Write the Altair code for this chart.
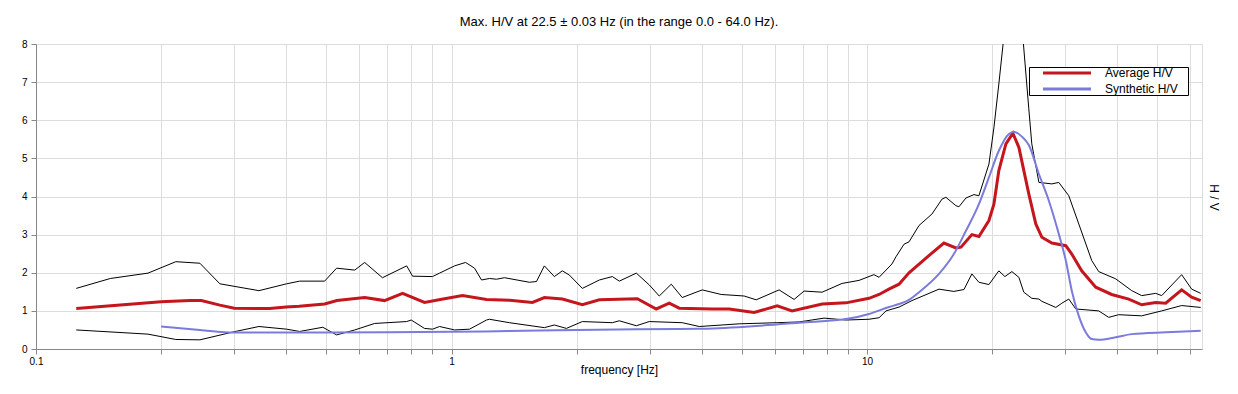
import altair as alt
import pandas as pd

# ---------------- data ----------------
avg_f = [0.125, 0.20, 0.235, 0.25, 0.277, 0.30, 0.365, 0.40, 0.43, 0.495, 0.53, 0.618, 0.69,
         0.7625, 0.861, 0.94, 1.063, 1.214, 1.38, 1.566, 1.673, 1.848, 2.065, 2.269, 2.80, 3.11,
         3.342, 3.533, 4.24, 4.66, 5.35, 6.08, 6.60, 7.80, 8.90, 10.11, 10.69, 11.29, 11.94, 12.62,
         14.09, 15.31, 16.36, 16.83, 17.88, 18.59, 19.65, 20.20, 20.76, 21.59, 22.44, 23.20, 24.51,
         25.48, 26.35, 27.85, 30.09, 31.10, 32.86, 35.52, 38.80, 42.64, 45.82, 49.52, 52.34, 57.18,
         60.44, 63.54]
avg_v = [1.06, 1.24, 1.27, 1.27, 1.15, 1.07, 1.06, 1.10, 1.12, 1.18, 1.27, 1.35, 1.27,
         1.46, 1.22, 1.30, 1.40, 1.30, 1.28, 1.22, 1.35, 1.31, 1.16, 1.29, 1.32, 1.05,
         1.20, 1.07, 1.05, 1.05, 0.96, 1.13, 1.00, 1.18, 1.21, 1.33, 1.43, 1.57, 1.70, 2.00,
         2.45, 2.78, 2.65, 2.67, 3.00, 2.95, 3.37, 3.80, 4.68, 5.38, 5.66, 5.29, 4.07,
         3.28, 2.93, 2.78, 2.71, 2.49, 2.05, 1.62, 1.43, 1.31, 1.16, 1.22, 1.20, 1.55,
         1.36, 1.27]

syn_f = [0.20, 0.248, 0.30, 0.43, 0.70, 1.2, 2.8, 3.95, 5.2, 6.86, 9.05, 10.11, 11.29, 11.94,
         12.62, 13.34, 14.90, 16.18, 17.30, 18.59, 19.65, 20.76, 21.95, 22.56, 23.59, 24.51,
         25.92, 27.39, 28.94, 30.09, 31.10, 32.33, 33.60, 34.74, 36.11, 39.67, 43.36, 52.34, 63.54]
syn_v = [0.59, 0.50, 0.43, 0.43, 0.44, 0.46, 0.52, 0.53, 0.59, 0.69, 0.80, 0.92, 1.10, 1.18,
         1.29, 1.49, 1.97, 2.49, 3.10, 3.80, 4.50, 5.20, 5.64, 5.70, 5.57, 5.35,
         4.59, 3.89, 3.02, 2.32, 1.53, 0.87, 0.44, 0.26, 0.24, 0.31, 0.39, 0.44, 0.48]

upper_f = [0.125, 0.151, 0.186, 0.217, 0.248, 0.277, 0.344, 0.401, 0.431, 0.495, 0.529, 0.585,
           0.618, 0.682, 0.78, 0.806, 0.90, 0.936, 1.017, 1.081, 1.136, 1.181, 1.234, 1.283,
           1.341, 1.54, 1.601, 1.673, 1.768, 1.848, 1.921, 2.065, 2.269, 2.438, 2.534, 2.785,
           2.992, 3.162, 3.38, 3.592, 4.013, 4.457, 5.062, 5.41, 6.144, 6.675, 7.056, 7.796,
           8.709, 9.567, 10.39, 10.69, 11.48, 11.74, 12.28, 12.62, 13.34, 14.33, 15.15, 15.48,
           16.36, 16.64, 17.30, 18.08, 18.59, 19.65, 20.20, 20.76, 21.35, 22.44, 23.71, 24.51,
           24.92, 25.92, 27.85, 28.94, 30.59, 32.33, 34.74, 36.11, 39.67, 43.36, 45.82, 49.52,
           51.19, 57.18, 60.44, 63.54]
upper_v = [1.59, 1.85, 1.99, 2.29, 2.25, 1.71, 1.53, 1.71, 1.78, 1.78, 2.12, 2.07,
           2.27, 1.87, 2.18, 1.91, 1.90, 1.99, 2.18, 2.27, 2.12, 1.81, 1.85, 1.83,
           1.87, 1.75, 1.77, 2.18, 1.90, 2.05, 1.94, 1.59, 1.81, 1.90, 1.78, 1.99,
           1.68, 1.39, 1.70, 1.35, 1.55, 1.43, 1.39, 1.29, 1.55, 1.30, 1.52, 1.49,
           1.72, 1.80, 1.95, 1.88, 2.23, 2.42, 2.75, 2.81, 3.24, 3.54, 3.93, 3.98,
           3.76, 3.73, 3.96, 4.05, 4.02, 4.85, 5.80, 6.95, 8.20, 10.50, 8.20, 6.30,
           5.38, 4.37, 4.33, 4.37, 4.02, 3.28, 2.32, 2.03, 1.84, 1.53, 1.40, 1.46,
           1.40, 1.95, 1.57, 1.46]

lower_f = [0.125, 0.186, 0.217, 0.248, 0.299, 0.344, 0.401, 0.431, 0.49, 0.529, 0.585, 0.653,
           0.78, 0.80, 0.861, 0.90, 0.936, 1.017, 1.105, 1.214, 1.234, 1.378, 1.673, 1.768,
           1.89, 2.065, 2.438, 2.534, 2.785, 2.992, 3.592, 3.947, 4.924, 6.077, 6.864, 7.883,
           8.904, 10.11, 10.69, 11.11, 11.94, 12.83, 14.90, 16.18, 17.11, 17.88, 18.59, 19.65,
           20.76, 21.47, 22.32, 23.20, 23.84, 24.92, 25.92, 26.35, 28.47, 29.43, 30.59, 31.80,
           36.11, 38.16, 40.34, 45.82, 51.19, 57.18, 63.54]
lower_v = [0.50, 0.39, 0.25, 0.24, 0.45, 0.59, 0.52, 0.46, 0.57, 0.37, 0.50, 0.67,
           0.72, 0.76, 0.54, 0.52, 0.59, 0.50, 0.52, 0.76, 0.78, 0.69, 0.56, 0.63,
           0.54, 0.72, 0.69, 0.74, 0.61, 0.72, 0.69, 0.59, 0.66, 0.69, 0.71, 0.81,
           0.76, 0.78, 0.82, 1.00, 1.10, 1.27, 1.57, 1.51, 1.56, 1.97, 1.75, 1.69,
           2.05, 1.90, 2.03, 1.88, 1.49, 1.33, 1.31, 1.25, 1.09, 1.20, 1.31, 1.05,
           1.00, 0.83, 0.90, 0.87, 1.00, 1.14, 1.09]

x_ticks = [0.1, 0.2, 0.3, 0.4, 0.5, 0.6, 0.7, 0.8, 0.9,
           1, 2, 3, 4, 5, 6, 7, 8, 9,
           10, 20, 30, 40, 50, 60]
y_ticks = [0, 1, 2, 3, 4, 5, 6, 7, 8]
series_names = ["Average H/V", "Synthetic H/V"]
series_colors = ["#C4161C", "#7B7BDB"]

FONT = "Liberation Sans"
# trailing room inside the legend box (spaces kept by a zero-width end char)
LEGEND_PAD = "   \u200b"

# ---------------- tables ----------------
avg = pd.DataFrame({"f": avg_f, "v": avg_v, "series": series_names[0]})
syn = pd.DataFrame({"f": syn_f, "v": syn_v, "series": series_names[1]})
black = pd.concat([
    pd.DataFrame({"f": upper_f, "v": upper_v, "curve": "upper"}),
    pd.DataFrame({"f": lower_f, "v": lower_v, "curve": "lower"}),
])

x_axis = alt.Axis(
    values=x_ticks,
    labelExpr="datum.value == 0.1 ? '0.1' : (datum.value == 1 ? '1' : (datum.value == 10 ? '10' : ''))",
    labelOverlap=False, labelFlush=False, labelPadding=2,
    title="frequency [Hz]", titleX=583, titleY=20, titleBaseline="middle",
    titleFontWeight="normal", titleFontSize=12, titleFont=FONT,
    grid=True,
)
x_enc = alt.X("f:Q", scale=alt.Scale(type="log", domain=[0.1, 64], nice=False), axis=x_axis)

y_scale = alt.Scale(domain=[0, 8], nice=False, zero=True)
y_left = alt.Y("v:Q", scale=y_scale,
               axis=alt.Axis(values=y_ticks, title=None, grid=True, labelPadding=4, orient="left"))
y_right = alt.Y("v:Q", scale=y_scale,
                axis=alt.Axis(orient="right", labels=False, ticks=False, domain=False, grid=False,
                              title="H / V", titleAngle=90, titleX=11, titleY=153,
                              titleBaseline="middle", titleAlign="center",
                              titleFontWeight="normal", titleFontSize=12, titleFont=FONT))

color = alt.Color("series:N",
                  scale=alt.Scale(domain=series_names, range=series_colors),
                  legend=alt.Legend(title=None, orient="none", legendX=993, legendY=23,
                                    symbolType="M-6,0H6", symbolSize=64, symbolStrokeWidth=3,
                                    symbolOffset=32, labelOffset=32,
                                    labelExpr="datum.label + '" + LEGEND_PAD + "'",
                                    strokeColor="black", fillColor="white", padding=0,
                                    labelFont=FONT, labelFontSize=12, labelColor="black",
                                    rowPadding=4))

black_layer = alt.Chart(black).mark_line(color="black", strokeWidth=1, clip=True).encode(
    x=x_enc, y=y_right, detail="curve:N")
avg_layer = alt.Chart(avg).mark_line(strokeWidth=3, clip=True).encode(
    x=x_enc, y=y_left, color=color)
syn_layer = alt.Chart(syn).mark_line(strokeWidth=2, clip=True, interpolate="monotone").encode(
    x=x_enc, y=alt.Y("v:Q", scale=y_scale, axis=None), color=color)

chart = alt.layer(black_layer, avg_layer, syn_layer).resolve_axis(y="independent").properties(
    width=1166, height=305,
    autosize=alt.AutoSizeParams(type="none"),
    padding={"left": 28, "top": 36, "right": 28, "bottom": 37},
    title=alt.TitleParams("Max. H/V at 22.5 ± 0.03 Hz (in the range 0.0 - 64.0 Hz).",
                          fontSize=13, fontWeight="normal", font=FONT, color="black",
                          baseline="middle", offset=4, anchor="middle"),
).configure_view(
    stroke="black", strokeWidth=1
).configure_axis(
    domain=False, ticks=False, labelFont=FONT, labelFontSize=12, labelColor="black",
    gridColor="#BDBDBD", gridDash=[4, 3], gridWidth=1, titleColor="black",
).configure(background="white")

chart.save("out.html", embed_options={"renderer": "svg", "actions": False})
